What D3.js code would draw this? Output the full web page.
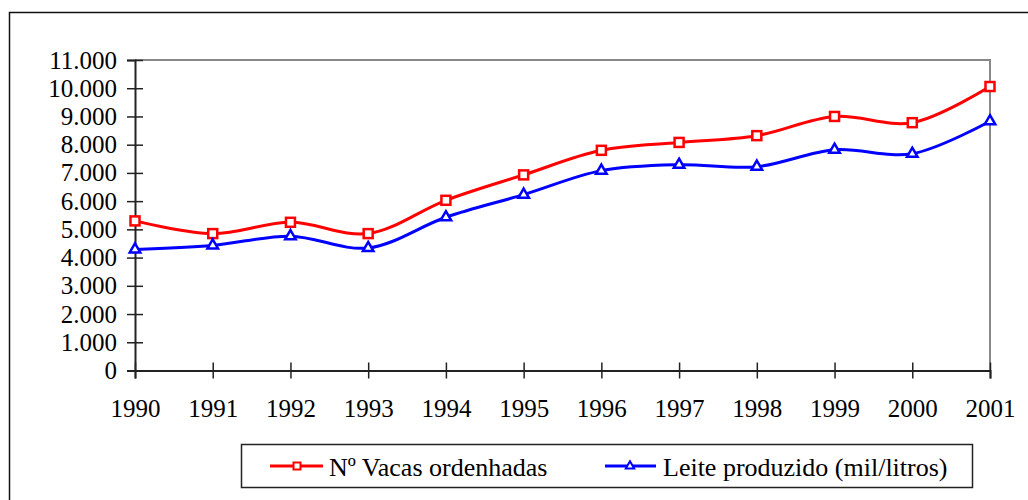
<!DOCTYPE html>
<html>
<head>
<meta charset="utf-8">
<script src="https://cdn.jsdelivr.net/npm/d3@7"></script>
<style>
  body { margin: 0; background: #fff; }
  svg { display: block; }
</style>
</head>
<body>
<div id="chart"></div>
<script>
// data
const years = ["1990","1991","1992","1993","1994","1995","1996","1997","1998","1999","2000","2001"];
const vacas = [5300, 4850, 5250, 4850, 6030, 6930, 7800, 8080, 8320, 9000, 8780, 10060];
const leite = [4290, 4430, 4760, 4340, 5430, 6230, 7080, 7290, 7220, 7820, 7680, 8830];
const yTicks = [0, 1000, 2000, 3000, 4000, 5000, 6000, 7000, 8000, 9000, 10000, 11000];
const seriesNames = ["Nº Vacas ordenhadas", "Leite produzido (mil/litros)"];

const serif = "'Liberation Serif', 'Times New Roman', serif";
const width = 1028, height = 500;
const margin = ({ top: 60, right: 38, bottom: 129.5, left: 135 });

const svg = d3.select("#chart")
  .append("svg")
  .attr("width", width)
  .attr("height", height)
  .attr("font-family", serif);

// outer chart frame (runs off the right and bottom edges)
svg.append("rect")
  .attr("x", 9.5).attr("y", 12.5)
  .attr("width", 1040).attr("height", 520)
  .attr("fill", "none")
  .attr("stroke", "#111")
  .attr("stroke-width", 1.5);

let x = d3.scalePoint()
  .domain(years)
  .range([margin.left, width - margin.right]);

let y = d3.scaleLinear()
  .domain([0, 11000])
  .range([height - margin.bottom, margin.top]);

const fmt = d3.formatLocale({ decimal: ",", thousands: ".", grouping: [3], currency: ["", ""] }).format(",");

// plot area top / right border
svg.append("path")
  .attr("d", `M${margin.left},${y(11000)}H${width - margin.right}V${y(0)}`)
  .attr("fill", "none")
  .attr("stroke", "#888")
  .attr("stroke-width", 2);

// y axis
const gy = svg.append("g")
  .attr("transform", `translate(${margin.left},0)`)
  .call(d3.axisLeft(y).tickValues(yTicks).tickFormat(fmt).tickSizeOuter(0).tickSize(8))
  .attr("font-family", serif);
gy.select(".domain").attr("stroke", "#222").attr("stroke-width", 2);
gy.selectAll(".tick line").attr("x1", -8).attr("x2", 8).attr("stroke", "#222").attr("stroke-width", 1.5);
gy.selectAll(".tick text")
  .attr("x", -18)
  .attr("font-size", 25);

// x axis
const gx = svg.append("g")
  .attr("transform", `translate(0,${y(0)})`)
  .call(d3.axisBottom(x).tickSizeOuter(0).tickSize(8))
  .attr("font-family", serif);
gx.select(".domain").attr("stroke", "#222").attr("stroke-width", 2);
gx.selectAll(".tick line").attr("y1", -8).attr("y2", 8).attr("stroke", "#222").attr("stroke-width", 1.5);
gx.selectAll(".tick text")
  .attr("y", 46.5)
  .attr("dy", 0)
  .attr("font-size", 25);

let line = d3.line()
  .x((d, i) => x(years[i]))
  .y(d => y(d))
  .curve(d3.curveCatmullRom.alpha(0.5));

const tri = d3.symbol().type(d3.symbolTriangle).size(48);

// red series
svg.append("path")
  .datum(vacas)
  .attr("d", line)
  .attr("fill", "none")
  .attr("stroke", "#ff0000")
  .attr("stroke-width", 3);

svg.selectAll(".sq")
  .data(vacas)
  .join("rect")
  .attr("class", "sq")
  .attr("x", (d, i) => x(years[i]) - 4.5)
  .attr("y", d => y(d) - 4.5)
  .attr("width", 9).attr("height", 9)
  .attr("fill", "#fff")
  .attr("stroke", "#ff0000")
  .attr("stroke-width", 2.5);

// blue series
svg.append("path")
  .datum(leite)
  .attr("d", line)
  .attr("fill", "none")
  .attr("stroke", "#0000ff")
  .attr("stroke-width", 3);

svg.selectAll(".tri")
  .data(leite)
  .join("path")
  .attr("class", "tri")
  .attr("transform", (d, i) => `translate(${x(years[i])},${y(d)})`)
  .attr("d", tri)
  .attr("fill", "#fff")
  .attr("stroke", "#0000ff")
  .attr("stroke-width", 2.5);

// legend
const legend = svg.append("g").attr("font-family", serif);
legend.append("rect")
  .attr("x", 241.5).attr("y", 444.5)
  .attr("width", 731).attr("height", 43)
  .attr("fill", "#fff")
  .attr("stroke", "#222")
  .attr("stroke-width", 1.5);

legend.append("line")
  .attr("x1", 270).attr("x2", 323).attr("y1", 466).attr("y2", 466)
  .attr("stroke", "#ff0000").attr("stroke-width", 3);
legend.append("rect")
  .attr("x", 293.5).attr("y", 462.5).attr("width", 7).attr("height", 7)
  .attr("fill", "#fff").attr("stroke", "#ff0000").attr("stroke-width", 2);
legend.append("text")
  .attr("x", 329).attr("y", 476)
  .attr("font-size", 26)
  .text(seriesNames[0]);

legend.append("line")
  .attr("x1", 605).attr("x2", 656).attr("y1", 466).attr("y2", 466)
  .attr("stroke", "#0000ff").attr("stroke-width", 3);
legend.append("path")
  .attr("transform", "translate(630,466)")
  .attr("d", d3.symbol().type(d3.symbolTriangle).size(30))
  .attr("fill", "#fff").attr("stroke", "#0000ff").attr("stroke-width", 2);
legend.append("text")
  .attr("x", 663).attr("y", 476)
  .attr("font-size", 26)
  .text(seriesNames[1]);
</script>
</body>
</html>
